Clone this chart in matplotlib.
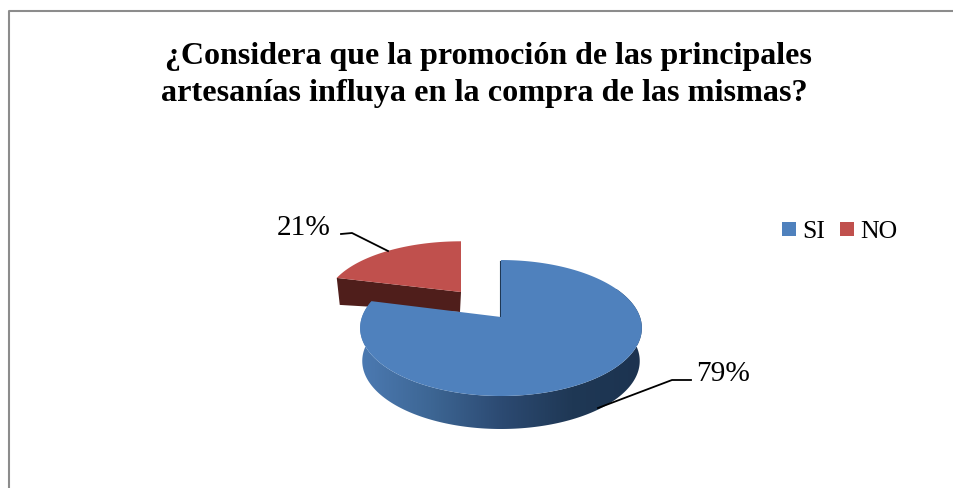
import matplotlib
matplotlib.use('Agg')
import matplotlib.pyplot as plt
from matplotlib.colors import LinearSegmentedColormap
from matplotlib.patches import Polygon
import numpy as np

title_lines = ['¿Considera que la promoción de las principales',
               'artesanías influya en la compra de las mismas?']
categories = ['SI', 'NO']
values = [79, 21]
colors = ['#4f81bd', '#c0504d']

plt.rcParams['font.family'] = ['Liberation Serif', 'DejaVu Serif']

W, H = 954, 489
fig = plt.figure(figsize=(W / 100, H / 100), dpi=100)
ax = fig.add_axes([0, 0, 1, 1])
# pixel coords, same as the reference picture
ax.set_xlim(0, W)
ax.set_ylim(H, 0)
ax.axis('off')

# frame, only left and top show in the crop
ax.plot([9, 9, W], [H, 12, 12], color='#8c8c8c', linewidth=1.5)


def project(deg, cx, cy, sx=1.0, sy=1.0):
    # clockwise angle from 12 o'clock on the pie disc, tilted with some perspective
    a = np.radians(deg)
    x = np.sin(a)
    z = np.cos(a)
    s = 1 / (1 + 0.162 * z)
    return cx + 139 * sx * x * s, cy - 66.2 * sy * z * s


red_span = 360 * values[1] / sum(values)

# red slice, pulled out to the upper left
ra = np.linspace(-red_span, 0, 80)
rx, ry = project(ra, 461, 293, 0.96, 0.89)
ax.add_patch(Polygon([(rx[0], ry[0]), (461, 293), (460, 313), (rx[0] + 3, ry[0] + 27)],
                     facecolor='#4f1e1b', edgecolor='none', zorder=2))
ax.add_patch(Polygon(np.r_[[[461, 293]], np.c_[rx, ry]], facecolor=colors[1], edgecolor='none', zorder=3))

# blue slice side, horizontal gradient
ba = np.linspace(0, 360 - red_span, 240)
bx, by = project(ba, 501, 318)
lx, ly = project(ba, 501, 351, 0.985, 1.0)
keep = (ba > 60) & (ba < 300)
side = Polygon(np.r_[np.c_[bx[keep], by[keep]], np.c_[lx[keep], ly[keep]][::-1]],
               facecolor='none', edgecolor='none', zorder=4)
ax.add_patch(side)
shade = LinearSegmentedColormap.from_list('shade', ['#4c7ab2', '#3d6694', '#2c4a72', '#1f3855', '#1c3350'])
grad = ax.imshow(np.linspace(0, 1, 256)[None, :], cmap=shade, aspect='auto',
                 extent=[360, 643, 440, 290], zorder=4)
grad.set_clip_path(side)
ax.set_xlim(0, W)
ax.set_ylim(H, 0)

# blue slice top
ax.add_patch(Polygon(np.r_[[[501, 318]], np.c_[bx, by]], facecolor=colors[0], edgecolor='none', zorder=5))
ax.plot([500, 500], [262, 318], color='#1f3855', linewidth=0.8, zorder=4)

# leader lines
ax.plot([341, 352, 388], [235, 234, 252], color='black', linewidth=1.3, zorder=6)
ax.plot([691, 672, 598], [381, 381, 409], color='black', linewidth=1.3, zorder=6)

# value labels
ax.text(304, 228, f'{values[1]}%', fontsize=21.2, ha='center', va='center', color='black')
ax.text(723, 374, f'{values[0]}%', fontsize=21.2, ha='center', va='center', color='black')

# title, two separate lines since the spacing differs from the wrapped block
ax.text(488.5, 64, title_lines[0], fontsize=23, fontweight='bold', ha='center', va='baseline', color='black')
ax.text(484, 101, title_lines[1], fontsize=23.2, fontweight='bold', ha='center', va='baseline', color='black')

# legend
for left, lab, col in zip([782, 840], categories, colors):
    ax.add_patch(Polygon([(left, 223), (left + 14, 223), (left + 14, 237), (left, 237)],
                         facecolor=col, edgecolor='none'))
    ax.text(left + 20, 232, lab, fontsize=18.5, ha='left', va='center', color='black')

fig.savefig('out.png', dpi=100)
